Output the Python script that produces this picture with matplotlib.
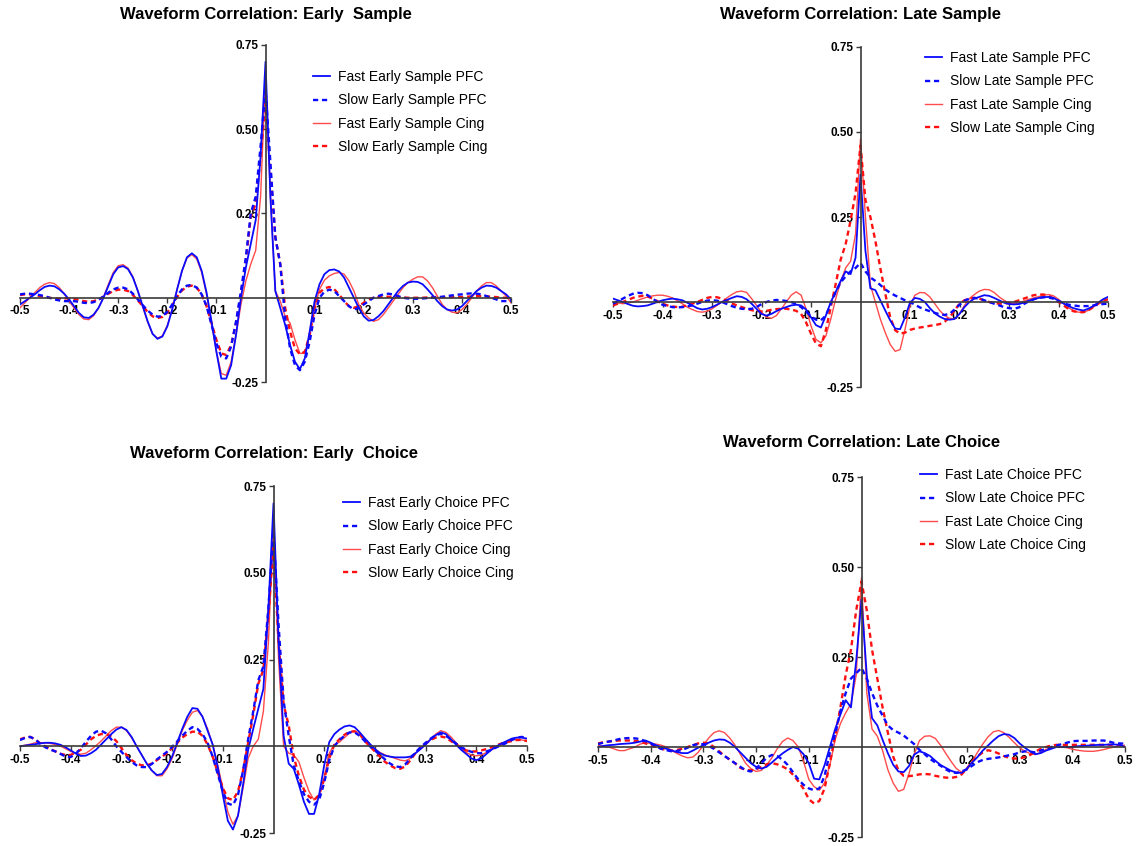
import matplotlib
matplotlib.use("Agg")
import matplotlib.pyplot as plt
import numpy as np

plt.rcParams['font.family'] = ['Liberation Sans', 'DejaVu Sans']

# lag axis (s), one sample every 10 ms
lags = np.round(np.linspace(-0.5, 0.5, 101), 2)

# ---- Early Sample ----
es_fast_pfc = [
    -0.02, -0.01, 0.0, 0.01, 0.022, 0.032, 0.036, 0.034, 0.025, 0.012,
    -0.005, -0.025, -0.045, -0.058, -0.06, -0.05, -0.03, 0.0, 0.035, 0.07,
    0.09, 0.094, 0.085, 0.06, 0.02, -0.025, -0.07, -0.107, -0.122, -0.115,
    -0.085, -0.035, 0.025, 0.08, 0.12, 0.132, 0.12, 0.08, 0.015, -0.07,
    -0.16, -0.24, -0.24, -0.2, -0.11, 0.0, 0.09, 0.16, 0.23, 0.42,
    0.70,
    0.3, 0.02, -0.03, -0.08, -0.14, -0.19, -0.212, -0.18, -0.1, -0.01,
    0.04, 0.07, 0.082, 0.084, 0.078, 0.06, 0.03, 0.0, -0.03, -0.055,
    -0.068, -0.066, -0.055, -0.04, -0.02, 0.0, 0.02, 0.035, 0.045, 0.048,
    0.047, 0.04, 0.025, 0.008, -0.01, -0.025, -0.035, -0.038, -0.035, -0.025,
    -0.01, 0.005, 0.02, 0.03, 0.036, 0.035, 0.03, 0.02, 0.01, -0.005]
es_slow_pfc = [
    0.01, 0.012, 0.012, 0.01, 0.008, 0.005, 0.0, -0.005, -0.008, -0.01,
    -0.01, -0.01, -0.012, -0.015, -0.016, -0.013, -0.006, 0.004, 0.015, 0.025,
    0.03, 0.03, 0.025, 0.012, -0.005, -0.022, -0.038, -0.05, -0.056, -0.055,
    -0.042, -0.02, 0.005, 0.025, 0.036, 0.038, 0.03, 0.01, -0.025, -0.08,
    -0.135, -0.175, -0.18, -0.145, -0.07, 0.02, 0.12, 0.25, 0.3, 0.45,
    0.62,
    0.4, 0.18, 0.1, -0.06, -0.15, -0.2, -0.215, -0.19, -0.13, -0.05,
    0.0, 0.018, 0.024, 0.02, 0.005, -0.01, -0.025, -0.035, -0.03, -0.02,
    -0.01, 0.0, 0.005, 0.01, 0.012, 0.01, 0.005, 0.0, -0.002, -0.003,
    -0.003, -0.002, -0.001, 0.0, 0.001, 0.003, 0.005, 0.007, 0.009, 0.01,
    0.012, 0.013, 0.012, 0.01, 0.005, 0.0, -0.005, -0.01, -0.01, -0.01]
es_fast_cing = [
    -0.03, -0.015, 0.0, 0.015, 0.03, 0.04, 0.045, 0.042, 0.03, 0.012,
    -0.01, -0.03, -0.05, -0.063, -0.065, -0.053, -0.03, 0.002, 0.04, 0.075,
    0.095, 0.098, 0.088, 0.062, 0.02, -0.027, -0.072, -0.108, -0.12, -0.113,
    -0.083, -0.033, 0.025, 0.08, 0.118, 0.128, 0.115, 0.075, 0.01, -0.075,
    -0.16, -0.225, -0.23, -0.19, -0.11, -0.02, 0.05, 0.1, 0.14, 0.3,
    0.66,
    0.3, 0.02, -0.01, -0.055, -0.075, -0.125, -0.165, -0.165, -0.11, -0.03,
    0.025, 0.052, 0.065, 0.072, 0.075, 0.07, 0.05, 0.02, -0.02, -0.045,
    -0.06, -0.07, -0.065, -0.05, -0.03, -0.01, 0.01, 0.03, 0.045, 0.055,
    0.062, 0.062, 0.05, 0.03, 0.005, -0.02, -0.035, -0.043, -0.045, -0.035,
    -0.02, 0.0, 0.02, 0.035, 0.045, 0.045, 0.035, 0.02, 0.005, -0.015]
es_slow_cing = [
    0.008, 0.01, 0.01, 0.008, 0.005, 0.003, 0.0, -0.002, -0.003, -0.002,
    -0.002, -0.003, -0.006, -0.01, -0.012, -0.01, -0.005, 0.003, 0.012, 0.02,
    0.024, 0.024, 0.02, 0.008, -0.008, -0.025, -0.042, -0.055, -0.06, -0.057,
    -0.044, -0.022, 0.002, 0.022, 0.033, 0.036, 0.03, 0.01, -0.025, -0.075,
    -0.125, -0.165, -0.17, -0.14, -0.075, 0.01, 0.11, 0.24, 0.28, 0.42,
    0.58,
    0.38, 0.18, 0.1, -0.03, -0.1, -0.15, -0.168, -0.16, -0.11, -0.03,
    0.015, 0.028, 0.032, 0.025, 0.01, -0.01, -0.025, -0.03, -0.025, -0.015,
    -0.005, 0.0, 0.002, 0.003, 0.003, 0.003, 0.002, 0.001, 0.0, 0.0,
    0.0, 0.0, 0.001, 0.002, 0.002, 0.002, 0.002, 0.002, 0.002, 0.002,
    0.003, 0.004, 0.005, 0.005, 0.004, 0.003, 0.002, 0.0, 0.0, 0.0]

# ---- Late Sample ----
ls_fast_pfc = [
    0.01, 0.005, 0.0, -0.006, -0.011, -0.013, -0.012, -0.01, -0.005, 0.0,
    0.005, 0.008, 0.01, 0.008, 0.005, -0.002, -0.01, -0.018, -0.022, -0.02,
    -0.015, -0.008, 0.0, 0.006, 0.012, 0.017, 0.015, 0.008, -0.005, -0.02,
    -0.035, -0.04, -0.035, -0.027, -0.02, -0.015, -0.01, -0.008, -0.01, -0.022,
    -0.045, -0.068, -0.075, -0.04, 0.0, 0.03, 0.062, 0.09, 0.082, 0.13,
    0.375,
    0.15, 0.04, 0.035, 0.005, -0.025, -0.054, -0.078, -0.08, -0.045, -0.002,
    0.012, 0.009, 0.0, -0.018, -0.033, -0.043, -0.05, -0.052, -0.05, -0.035,
    -0.015, 0.0, 0.01, 0.015, 0.02, 0.018, 0.012, 0.005, -0.002, -0.006,
    -0.007, -0.006, -0.002, 0.004, 0.008, 0.012, 0.014, 0.015, 0.012, 0.004,
    -0.004, -0.012, -0.018, -0.022, -0.025, -0.02, -0.012, -0.002, 0.008, 0.015]
ls_slow_pfc = [
    -0.005, 0.002, 0.01, 0.018, 0.024, 0.027, 0.026, 0.02, 0.01, 0.0,
    -0.008, -0.012, -0.015, -0.016, -0.015, -0.013, -0.01, -0.005, 0.0, 0.004,
    0.005, 0.004, 0.0, -0.006, -0.012, -0.017, -0.02, -0.021, -0.02, -0.015,
    -0.006, 0.0, 0.004, 0.006, 0.005, 0.003, 0.0, -0.006, -0.015, -0.028,
    -0.042, -0.052, -0.054, -0.04, -0.005, 0.03, 0.058, 0.075, 0.09, 0.1,
    0.115,
    0.09, 0.072, 0.062, 0.05, 0.037, 0.027, 0.019, 0.012, 0.005, 0.0,
    -0.008, -0.016, -0.022, -0.027, -0.032, -0.036, -0.038, -0.035, -0.022, -0.008,
    0.004, 0.01, 0.012, 0.01, 0.005, 0.0, -0.005, -0.01, -0.015, -0.018,
    -0.02, -0.016, -0.006, 0.002, 0.008, 0.012, 0.014, 0.013, 0.01, 0.003,
    -0.003, -0.008, -0.01, -0.012, -0.012, -0.012, -0.01, -0.008, -0.006, -0.005]
ls_fast_cing = [
    0.0, -0.003, -0.005, -0.003, 0.0, 0.005, 0.01, 0.015, 0.018, 0.02,
    0.02, 0.017, 0.012, 0.004, -0.005, -0.015, -0.022, -0.028, -0.03, -0.027,
    -0.02, -0.01, 0.0, 0.012, 0.022, 0.03, 0.032, 0.028, 0.01, -0.01,
    -0.03, -0.045, -0.048, -0.04, -0.02, 0.0, 0.02, 0.03, 0.02, -0.02,
    -0.07, -0.11, -0.12, -0.1, -0.05, 0.01, 0.06, 0.1, 0.12, 0.2,
    0.48,
    0.25, 0.05, 0.0, -0.05, -0.09, -0.125, -0.145, -0.14, -0.08, -0.01,
    0.02, 0.028, 0.027, 0.015, -0.005, -0.025, -0.04, -0.048, -0.05, -0.035,
    -0.01, 0.01, 0.022, 0.032, 0.037, 0.036, 0.028, 0.015, 0.005, -0.003,
    -0.005, -0.003, 0.003, 0.008, 0.012, 0.016, 0.02, 0.022, 0.018, 0.008,
    -0.005, -0.017, -0.025, -0.03, -0.03, -0.025, -0.015, -0.005, 0.003, 0.008]
ls_slow_cing = [
    -0.01, -0.005, 0.0, 0.006, 0.012, 0.016, 0.018, 0.016, 0.01, 0.002,
    -0.005, -0.01, -0.013, -0.015, -0.014, -0.01, -0.005, 0.0, 0.006, 0.012,
    0.015, 0.014, 0.01, 0.004, -0.004, -0.01, -0.015, -0.02, -0.024, -0.027,
    -0.028, -0.026, -0.023, -0.021, -0.02, -0.02, -0.022, -0.026, -0.035, -0.06,
    -0.093, -0.122, -0.13, -0.083, -0.015, 0.054, 0.125, 0.17, 0.24, 0.32,
    0.46,
    0.3, 0.25, 0.18, 0.1, 0.025, -0.045, -0.083, -0.093, -0.09, -0.082,
    -0.078, -0.075, -0.073, -0.07, -0.068, -0.065, -0.058, -0.045, -0.025, -0.005,
    0.005, 0.01, 0.012, 0.01, 0.005, 0.0, -0.003, -0.005, -0.005, -0.003,
    0.0, 0.005, 0.01, 0.015, 0.02, 0.022, 0.022, 0.018, 0.01, 0.0,
    -0.01, -0.02, -0.027, -0.03, -0.03, -0.025, -0.015, -0.005, 0.003, 0.008]

# ---- Early Choice ----
ec_fast_pfc = [
    0.0, 0.002, 0.004, 0.006, 0.008, 0.01, 0.01, 0.008, 0.004, -0.003,
    -0.012, -0.021, -0.028, -0.027, -0.02, -0.01, 0.005, 0.02, 0.035, 0.048,
    0.055, 0.047, 0.027, 0.0, -0.025, -0.05, -0.07, -0.083, -0.08, -0.06,
    -0.03, 0.01, 0.05, 0.085, 0.11, 0.108, 0.085, 0.045, 0.005, -0.06,
    -0.14, -0.215, -0.24, -0.2, -0.11, -0.01, 0.05, 0.108, 0.165, 0.4,
    0.70,
    0.3, 0.03, -0.05, -0.065, -0.11, -0.16, -0.195, -0.195, -0.14, -0.055,
    0.012, 0.035, 0.048, 0.057, 0.06, 0.055, 0.04, 0.023, 0.007, -0.008,
    -0.02, -0.027, -0.03, -0.032, -0.032, -0.032, -0.03, -0.02, -0.008, 0.005,
    0.02, 0.032, 0.04, 0.035, 0.02, 0.005, -0.01, -0.022, -0.035, -0.04,
    -0.035, -0.022, -0.01, 0.0, 0.008, 0.015, 0.022, 0.025, 0.025, 0.022]
ec_slow_pfc = [
    0.018, 0.024, 0.027, 0.02, 0.007, -0.003, -0.01, -0.015, -0.022, -0.03,
    -0.031, -0.022, -0.006, 0.013, 0.03, 0.042, 0.045, 0.037, 0.02, 0.0,
    -0.016, -0.031, -0.045, -0.055, -0.06, -0.06, -0.051, -0.038, -0.027, -0.016,
    -0.002, 0.014, 0.03, 0.045, 0.055, 0.05, 0.035, 0.01, -0.03, -0.08,
    -0.13, -0.165, -0.17, -0.14, -0.07, 0.02, 0.1, 0.19, 0.23, 0.4,
    0.62,
    0.35, 0.13, 0.03, -0.056, -0.1, -0.138, -0.16, -0.168, -0.155, -0.105,
    -0.04, 0.0, 0.018, 0.03, 0.04, 0.04, 0.03, 0.015, 0.0, -0.012,
    -0.025, -0.038, -0.05, -0.058, -0.06, -0.052, -0.035, -0.018, -0.003, 0.01,
    0.022, 0.032, 0.036, 0.03, 0.02, 0.008, -0.003, -0.01, -0.016, -0.02,
    -0.02, -0.015, -0.01, -0.003, 0.003, 0.01, 0.018, 0.025, 0.027, 0.022]
ec_fast_cing = [
    0.0, 0.003, 0.006, 0.01, 0.01, 0.01, 0.008, 0.005, 0.0, -0.007,
    -0.015, -0.02, -0.023, -0.02, -0.01, 0.002, 0.015, 0.03, 0.045, 0.055,
    0.055, 0.045, 0.025, 0.0, -0.025, -0.05, -0.07, -0.085, -0.085, -0.065,
    -0.035, 0.005, 0.045, 0.075, 0.098, 0.103, 0.085, 0.05, 0.005, -0.055,
    -0.12, -0.19, -0.225, -0.2, -0.12, -0.035, 0.0, 0.02, 0.1, 0.3,
    0.64,
    0.25, 0.0, -0.02, -0.025, -0.045, -0.09, -0.13, -0.155, -0.14, -0.09,
    -0.02, 0.005, 0.012, 0.025, 0.038, 0.045, 0.035, 0.02, 0.005, -0.008,
    -0.018, -0.025, -0.03, -0.035, -0.04, -0.042, -0.035, -0.02, -0.008, 0.005,
    0.02, 0.035, 0.045, 0.04, 0.027, 0.01, -0.005, -0.018, -0.025, -0.028,
    -0.025, -0.018, -0.01, -0.002, 0.005, 0.012, 0.018, 0.02, 0.018, 0.015]
ec_slow_cing = [
    0.02, 0.025, 0.027, 0.02, 0.008, 0.0, -0.008, -0.015, -0.022, -0.025,
    -0.025, -0.018, -0.01, 0.005, 0.02, 0.03, 0.035, 0.035, 0.028, 0.015,
    -0.005, -0.025, -0.04, -0.05, -0.055, -0.055, -0.05, -0.04, -0.03, -0.02,
    -0.005, 0.01, 0.025, 0.035, 0.042, 0.042, 0.03, 0.005, -0.03, -0.075,
    -0.12, -0.15, -0.155, -0.13, -0.07, 0.01, 0.09, 0.18, 0.22, 0.38,
    0.58,
    0.3, 0.12, 0.06, -0.03, -0.085, -0.125, -0.145, -0.155, -0.14, -0.095,
    -0.035, 0.005, 0.02, 0.033, 0.042, 0.043, 0.035, 0.015, 0.0, -0.015,
    -0.03, -0.045, -0.055, -0.063, -0.065, -0.058, -0.04, -0.02, -0.005, 0.008,
    0.018, 0.025, 0.028, 0.025, 0.015, 0.005, -0.005, -0.012, -0.015, -0.015,
    -0.012, -0.008, -0.003, 0.003, 0.008, 0.012, 0.015, 0.018, 0.018, 0.015]

# ---- Late Choice ----
lc_fast_pfc = [
    0.0, 0.003, 0.005, 0.006, 0.008, 0.009, 0.01, 0.012, 0.015, 0.018,
    0.012, 0.005, 0.0, -0.005, -0.01, -0.014, -0.017, -0.017, -0.01, -0.002,
    0.005, 0.012, 0.018, 0.021, 0.02, 0.012, 0.0, -0.015, -0.03, -0.045,
    -0.055, -0.06, -0.055, -0.043, -0.03, -0.018, -0.008, 0.0, -0.005, -0.02,
    -0.045, -0.088, -0.09, -0.05, 0.0, 0.05, 0.09, 0.13, 0.11, 0.24,
    0.41,
    0.2, 0.08, 0.06, 0.02, -0.017, -0.049, -0.068, -0.07, -0.053, -0.021,
    -0.012, -0.017, -0.025, -0.038, -0.05, -0.058, -0.066, -0.071, -0.072, -0.06,
    -0.043, -0.028, -0.01, 0.004, 0.018, 0.03, 0.036, 0.034, 0.025, 0.01,
    -0.002, -0.012, -0.02, -0.017, -0.01, -0.005, 0.0, 0.0, 0.0, 0.0,
    0.002, 0.003, 0.004, 0.005, 0.006, 0.006, 0.007, 0.007, 0.006, 0.0]
lc_slow_pfc = [
    0.008, 0.012, 0.015, 0.018, 0.022, 0.024, 0.025, 0.024, 0.022, 0.016,
    0.01, 0.002, -0.005, -0.009, -0.012, -0.011, -0.008, -0.002, 0.005, 0.008,
    0.008, 0.003, -0.005, -0.015, -0.025, -0.035, -0.045, -0.055, -0.065, -0.068,
    -0.06, -0.045, -0.03, -0.022, -0.025, -0.035, -0.05, -0.07, -0.09, -0.105,
    -0.115, -0.12, -0.115, -0.08, -0.015, 0.035, 0.1, 0.15, 0.19, 0.205,
    0.22,
    0.19, 0.15, 0.115, 0.087, 0.06, 0.047, 0.04, 0.032, 0.02, 0.008,
    -0.008, -0.02, -0.033, -0.043, -0.052, -0.062, -0.07, -0.072, -0.068, -0.062,
    -0.052, -0.042, -0.036, -0.033, -0.031, -0.029, -0.026, -0.023, -0.02, -0.015,
    -0.012, -0.013, -0.015, -0.01, -0.005, 0.0, 0.004, 0.008, 0.012, 0.016,
    0.017, 0.017, 0.017, 0.018, 0.018, 0.018, 0.015, 0.011, 0.01, 0.009]
lc_fast_cing = [
    0.005, 0.002, 0.0, -0.005, -0.01, -0.01, -0.005, 0.0, 0.008, 0.012,
    0.01, 0.008, 0.005, 0.0, -0.01, -0.018, -0.025, -0.03, -0.028, -0.015,
    0.005, 0.025, 0.04, 0.045, 0.04, 0.025, 0.005, -0.02, -0.045, -0.06,
    -0.068, -0.065, -0.05, -0.03, -0.005, 0.015, 0.025, 0.018, 0.0, -0.04,
    -0.09, -0.11, -0.12, -0.1, -0.05, 0.02, 0.065, 0.095, 0.12, 0.2,
    0.47,
    0.15, 0.05, 0.03, -0.01, -0.063, -0.1, -0.123, -0.118, -0.075, -0.02,
    0.018, 0.03, 0.031, 0.024, 0.005, -0.018, -0.04, -0.06, -0.07, -0.063,
    -0.04, -0.015, 0.008, 0.028, 0.042, 0.046, 0.04, 0.027, 0.012, -0.002,
    -0.012, -0.018, -0.021, -0.015, -0.007, -0.002, 0.0, 0.0, -0.002, -0.006,
    -0.009, -0.011, -0.012, -0.012, -0.01, -0.007, -0.003, 0.0, 0.003, 0.005]
lc_slow_cing = [
    0.01, 0.013, 0.015, 0.017, 0.018, 0.018, 0.018, 0.017, 0.015, 0.01,
    0.005, 0.0, -0.005, -0.008, -0.01, -0.008, -0.005, 0.0, 0.005, 0.01,
    0.012, 0.01, 0.0, -0.012, -0.025, -0.035, -0.045, -0.058, -0.063, -0.065,
    -0.062, -0.055, -0.048, -0.045, -0.048, -0.054, -0.062, -0.077, -0.095, -0.116,
    -0.145, -0.157, -0.15, -0.115, -0.045, 0.03, 0.11, 0.2, 0.27, 0.38,
    0.46,
    0.38, 0.27, 0.19, 0.11, 0.04, -0.026, -0.065, -0.08, -0.081, -0.079,
    -0.076, -0.075, -0.076, -0.08, -0.083, -0.085, -0.086, -0.083, -0.076, -0.06,
    -0.04, -0.026, -0.015, -0.009, -0.012, -0.018, -0.025, -0.03, -0.032, -0.032,
    -0.028, -0.022, -0.013, -0.005, 0.0, 0.004, 0.006, 0.006, 0.006, 0.006,
    0.006, 0.006, 0.006, 0.006, 0.006, 0.006, 0.006, 0.006, 0.005, 0.005]

x_ticks = [-0.5, -0.4, -0.3, -0.2, -0.1, 0.1, 0.2, 0.3, 0.4, 0.5]
x_tick_labels = ["-0.5", "-0.4", "-0.3", "-0.2", "-0.1", "0.1", "0.2", "0.3", "0.4", "0.5"]
y_ticks = [-0.25, 0.25, 0.5, 0.75]
y_tick_labels = ["-0.25", "0.25", "0.50", "0.75"]

W, H = 1142, 846
BLUE = "#0a0aff"
RED_FAST = "#ff4b4b"
RED_SLOW = "#ff1010"
DASH = (0, (2.2, 1.6))


def px_rect(x0, x1, ytop, ybot):
    return [x0 / W, 1 - ybot / H, (x1 - x0) / W, (ybot - ytop) / H]


def draw_panel(fig, rect, title, title_y, stage, fast_pfc, slow_pfc, fast_cing, slow_cing, leg_xy):
    ax = fig.add_axes(px_rect(*rect))
    h_fc, = ax.plot(lags, fast_cing, color=RED_FAST, lw=1.0)
    h_sc, = ax.plot(lags, slow_cing, color=RED_SLOW, lw=1.7, ls=DASH)
    h_fp, = ax.plot(lags, fast_pfc, color=BLUE, lw=1.3)
    h_sp, = ax.plot(lags, slow_pfc, color=BLUE, lw=1.7, ls=DASH)

    ax.set_xlim(-0.5, 0.5)
    ax.set_ylim(-0.25, 0.75)
    for side in ["top", "right"]:
        ax.spines[side].set_visible(False)
    ax.spines["left"].set_position(("data", 0))
    ax.spines["bottom"].set_position(("data", 0))
    for side in ["left", "bottom"]:
        ax.spines[side].set_color("#3a3a3a")
        ax.spines[side].set_linewidth(1.2)
    ax.set_xticks(x_ticks)
    ax.set_xticklabels(x_tick_labels)
    ax.set_yticks(y_ticks)
    ax.set_yticklabels(y_tick_labels)
    ax.tick_params(axis="both", direction="out", length=3.5, width=1.0,
                   color="#3a3a3a", labelsize=8.5)
    ax.tick_params(axis="x", pad=2)
    ax.tick_params(axis="y", pad=1.5)
    for lab in ax.get_xticklabels() + ax.get_yticklabels():
        lab.set_fontweight("bold")
    ax.patch.set_alpha(0)

    cx = (rect[0] + rect[1]) / 2 / W
    fig.text(cx, 1 - title_y / H, "Waveform Correlation: " + title,
             ha="center", va="center", fontsize=12, fontweight="bold")

    labels = ["Fast %s PFC" % stage, "Slow %s PFC" % stage,
              "Fast %s Cing" % stage, "Slow %s Cing" % stage]
    ax.legend([h_fp, h_sp, h_fc, h_sc], labels, loc="upper left",
              bbox_to_anchor=(leg_xy[0] / W, 1 - (leg_xy[1] - 8) / H),
              bbox_transform=fig.transFigure, frameon=False, fontsize=10,
              handlelength=1.2, handletextpad=0.6, labelspacing=0.68,
              borderpad=0, borderaxespad=0)
    return ax


fig = plt.figure(figsize=(W / 100, H / 100), dpi=100)

draw_panel(fig, (20, 511, 45, 382), "Early  Sample", 14, "Early Sample",
           es_fast_pfc, es_slow_pfc, es_fast_cing, es_slow_cing, (313, 78))
draw_panel(fig, (613, 1108, 47, 387), "Late Sample", 14, "Late Sample",
           ls_fast_pfc, ls_slow_pfc, ls_fast_cing, ls_slow_cing, (925, 59))
draw_panel(fig, (20, 527, 486, 833), "Early  Choice", 453, "Early Choice",
           ec_fast_pfc, ec_slow_pfc, ec_fast_cing, ec_slow_cing, (343, 504))
draw_panel(fig, (598, 1125, 477, 837), "Late Choice", 442, "Late Choice",
           lc_fast_pfc, lc_slow_pfc, lc_fast_cing, lc_slow_cing, (920, 476))

fig.savefig("out.png", dpi=100)
